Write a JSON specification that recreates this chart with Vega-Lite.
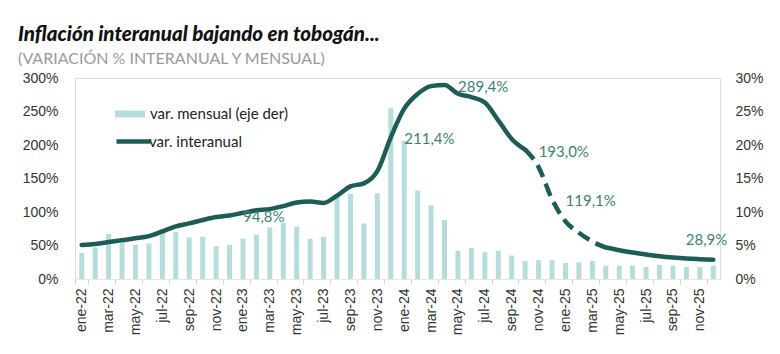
{
  "$schema": "https://vega.github.io/schema/vega-lite/v6.json",
  "width": 645,
  "height": 201,
  "autosize": {"type": "none"},
  "padding": {"left": 75, "top": 78, "right": 60, "bottom": 75},
  "background": "white",
  "title": {
    "text": "Inflación interanual bajando en tobogán...",
    "subtitle": "(VARIACIÓN % INTERANUAL Y MENSUAL)",
    "anchor": "start",
    "frame": "group",
    "dx": -57,
    "offset": 4,
    "font": "Lato",
    "fontSize": 20.5,
    "fontStyle": "italic",
    "fontWeight": 900,
    "color": "#111111",
    "subtitleFont": "Lato",
    "subtitleFontSize": 16,
    "subtitleColor": "#9a9a9a",
    "subtitlePadding": 6
  },
  "data": {
    "values": [
      {"n": 0, "mes": "ene-22", "mensual": 3.9, "interanual": 50.7},
      {"n": 1, "mes": "feb-22", "mensual": 4.7, "interanual": 52.3},
      {"n": 2, "mes": "mar-22", "mensual": 6.7, "interanual": 55.1},
      {"n": 3, "mes": "abr-22", "mensual": 6.0, "interanual": 58.0},
      {"n": 4, "mes": "may-22", "mensual": 5.1, "interanual": 60.7},
      {"n": 5, "mes": "jun-22", "mensual": 5.3, "interanual": 64.0},
      {"n": 6, "mes": "jul-22", "mensual": 7.4, "interanual": 71.0},
      {"n": 7, "mes": "ago-22", "mensual": 7.0, "interanual": 78.5},
      {"n": 8, "mes": "sep-22", "mensual": 6.2, "interanual": 83.0},
      {"n": 9, "mes": "oct-22", "mensual": 6.3, "interanual": 88.0},
      {"n": 10, "mes": "nov-22", "mensual": 4.9, "interanual": 92.4},
      {"n": 11, "mes": "dic-22", "mensual": 5.1, "interanual": 94.8, "etiqueta": "94,8%"},
      {"n": 12, "mes": "ene-23", "mensual": 6.0, "interanual": 98.8},
      {"n": 13, "mes": "feb-23", "mensual": 6.6, "interanual": 102.5},
      {"n": 14, "mes": "mar-23", "mensual": 7.7, "interanual": 104.3},
      {"n": 15, "mes": "abr-23", "mensual": 8.4, "interanual": 108.8},
      {"n": 16, "mes": "may-23", "mensual": 7.8, "interanual": 114.2},
      {"n": 17, "mes": "jun-23", "mensual": 6.0, "interanual": 115.6},
      {"n": 18, "mes": "jul-23", "mensual": 6.3, "interanual": 113.4},
      {"n": 19, "mes": "ago-23", "mensual": 12.4, "interanual": 124.4},
      {"n": 20, "mes": "sep-23", "mensual": 12.7, "interanual": 138.3},
      {"n": 21, "mes": "oct-23", "mensual": 8.3, "interanual": 142.7},
      {"n": 22, "mes": "nov-23", "mensual": 12.8, "interanual": 160.9},
      {"n": 23, "mes": "dic-23", "mensual": 25.5, "interanual": 211.4, "etiqueta": "211,4%"},
      {"n": 24, "mes": "ene-24", "mensual": 20.6, "interanual": 254.2},
      {"n": 25, "mes": "feb-24", "mensual": 13.2, "interanual": 276.2},
      {"n": 26, "mes": "mar-24", "mensual": 11.0, "interanual": 287.9},
      {"n": 27, "mes": "abr-24", "mensual": 8.8, "interanual": 289.4, "etiqueta": "289,4%"},
      {"n": 28, "mes": "may-24", "mensual": 4.2, "interanual": 276.4},
      {"n": 29, "mes": "jun-24", "mensual": 4.6, "interanual": 271.5},
      {"n": 30, "mes": "jul-24", "mensual": 4.0, "interanual": 263.4},
      {"n": 31, "mes": "ago-24", "mensual": 4.2, "interanual": 236.7},
      {"n": 32, "mes": "sep-24", "mensual": 3.5, "interanual": 209.0},
      {"n": 33, "mes": "oct-24", "mensual": 2.7, "interanual": 193.0, "etiqueta": "193,0%"},
      {"n": 34, "mes": "nov-24", "mensual": 2.8, "interanual": 167.0},
      {"n": 35, "mes": "dic-24", "mensual": 2.8, "interanual": 119.1, "etiqueta": "119,1%"},
      {"n": 36, "mes": "ene-25", "mensual": 2.4, "interanual": 86.0},
      {"n": 37, "mes": "feb-25", "mensual": 2.5, "interanual": 69.0},
      {"n": 38, "mes": "mar-25", "mensual": 2.7, "interanual": 56.0},
      {"n": 39, "mes": "abr-25", "mensual": 2.0, "interanual": 47.0},
      {"n": 40, "mes": "may-25", "mensual": 2.0, "interanual": 43.0},
      {"n": 41, "mes": "jun-25", "mensual": 2.0, "interanual": 39.5},
      {"n": 42, "mes": "jul-25", "mensual": 1.8, "interanual": 36.5},
      {"n": 43, "mes": "ago-25", "mensual": 2.1, "interanual": 34.0},
      {"n": 44, "mes": "sep-25", "mensual": 2.0, "interanual": 32.0},
      {"n": 45, "mes": "oct-25", "mensual": 1.8, "interanual": 30.5},
      {"n": 46, "mes": "nov-25", "mensual": 1.8, "interanual": 29.6},
      {"n": 47, "mes": "dic-25", "mensual": 2.0, "interanual": 28.9, "etiqueta": "28,9%"}
    ]
  },
  "encoding": {
    "x": {
      "field": "mes",
      "type": "ordinal",
      "sort": null,
      "scale": {"paddingInner": 0, "paddingOuter": 0},
      "axis": {
        "title": null,
        "values": ["ene-22", "mar-22", "may-22", "jul-22", "sep-22", "nov-22", "ene-23", "mar-23", "may-23", "jul-23", "sep-23", "nov-23", "ene-24", "mar-24", "may-24", "jul-24", "sep-24", "nov-24", "ene-25", "mar-25", "may-25", "jul-25", "sep-25", "nov-25"],
        "labelAngle": -90,
        "tickBand": "extent",
        "tickSize": 5,
        "tickColor": "#d6d6d6",
        "domainColor": "#e6e6e6",
        "labelPadding": 4,
        "labelFont": "Liberation Sans",
        "labelFontSize": 14,
        "labelColor": "#333333",
        "grid": false
      }
    }
  },
  "layer": [
    {
      "mark": {"type": "bar", "width": {"band": 0.37}},
      "encoding": {
        "y": {
          "field": "mensual",
          "type": "quantitative",
          "scale": {"domain": [0, 30]},
          "axis": {
            "orient": "right",
            "title": null,
            "values": [0, 5, 10, 15, 20, 25, 30],
            "labelExpr": "datum.value + '%'",
            "grid": false,
            "domain": false,
            "ticks": false,
            "labelPadding": 15,
            "labelFont": "Liberation Sans",
            "labelFontSize": 14,
            "labelColor": "#333333"
          }
        },
        "color": {
          "datum": "var. mensual (eje der)",
          "scale": {"range": ["#b6dcdc"]},
          "legend": {
            "title": null,
            "orient": "none",
            "legendX": 40,
            "legendY": 21,
            "padding": 0,
            "symbolType": "M-1,-0.23H1V0.23H-1Z",
            "symbolSize": 900,
            "symbolStrokeWidth": 0,
            "labelOffset": 5,
            "labelFont": "Lato",
            "labelFontSize": 15,
            "labelColor": "#222222"
          }
        }
      }
    },
    {
      "encoding": {
        "y": {
          "field": "interanual",
          "type": "quantitative",
          "scale": {"domain": [0, 300]},
          "axis": {
            "orient": "left",
            "title": null,
            "values": [0, 50, 100, 150, 200, 250, 300],
            "labelExpr": "datum.value + '%'",
            "grid": false,
            "domain": false,
            "ticks": false,
            "labelPadding": 17,
            "labelFont": "Liberation Sans",
            "labelFontSize": 14,
            "labelColor": "#333333"
          }
        }
      },
      "layer": [
        {
          "transform": [{"filter": "datum.n <= 33"}],
          "mark": {"type": "line", "strokeWidth": 4.5, "interpolate": "monotone", "strokeCap": "round"},
          "encoding": {
            "stroke": {
              "datum": "var. interanual",
              "scale": {"range": ["#1d5c57"]},
              "legend": {
                "title": null,
                "orient": "none",
                "legendX": 39,
                "legendY": 44,
                "padding": 0,
                "symbolType": "stroke",
                "symbolSize": 1156,
                "symbolStrokeWidth": 4.5,
                "labelOffset": -4,
                "labelFont": "Lato",
                "labelFontSize": 15,
                "labelColor": "#222222"
              }
            }
          }
        },
        {
          "transform": [{"filter": "datum.n >= 33 && datum.n <= 39"}],
          "mark": {"type": "line", "strokeWidth": 4.5, "interpolate": "monotone", "stroke": "#1d5c57", "strokeDash": [13, 7]},
          "encoding": {}
        },
        {
          "transform": [{"filter": "datum.n >= 39"}],
          "mark": {"type": "line", "strokeWidth": 4.5, "interpolate": "monotone", "stroke": "#1d5c57", "strokeCap": "round"},
          "encoding": {}
        },
        {
          "transform": [{"filter": "datum.etiqueta && datum.n < 47"}],
          "mark": {"type": "text", "align": "left", "baseline": "middle", "dx": 13.5, "dy": 2, "font": "Lato", "fontSize": 15, "color": "#3f7f78"},
          "encoding": {"text": {"field": "etiqueta"}}
        },
        {
          "transform": [{"filter": "datum.n == 47"}],
          "mark": {"type": "text", "align": "right", "baseline": "middle", "dx": 14, "dy": -20, "font": "Lato", "fontSize": 15, "color": "#3f7f78"},
          "encoding": {"text": {"field": "etiqueta"}}
        }
      ]
    }
  ],
  "resolve": {"scale": {"y": "independent"}}
}
